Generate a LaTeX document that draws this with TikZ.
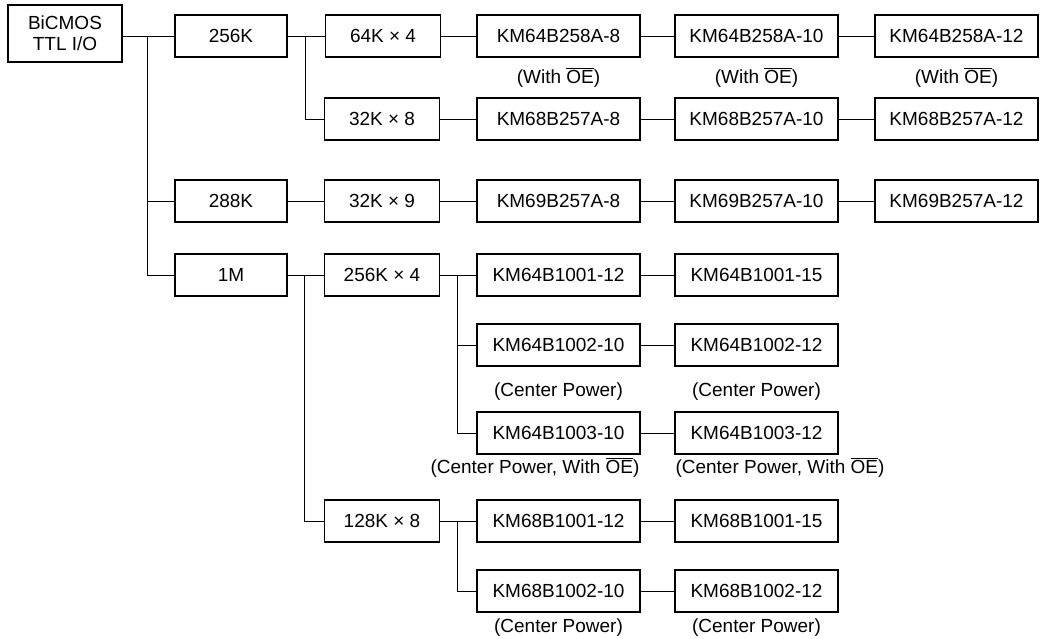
\documentclass[tikz,border=0pt]{standalone}
\usepackage{fontspec}
\setmainfont{Liberation Sans}
\usetikzlibrary{positioning}
\newcommand{\nOE}{$\overline{\mbox{OE}}$}

\begin{document}
\begin{tikzpicture}[x=0.025cm,y=-0.025cm,
    every node/.style={font=\fontsize{13.5}{15}\selectfont},
    box/.style={draw,line width=1.2pt,minimum height=1.05cm,inner sep=0pt},
    sizebox/.style={box,minimum width=2.8cm},
    orgbox/.style={box,minimum width=2.875cm},
    partbox/.style={box,minimum width=4.075cm},
    link/.style={line width=.6pt}]
  \useasboundingbox (0,0) rectangle (1041,639);
  % root and memory sizes
  \node[box,minimum width=2.85cm,minimum height=1.425cm,align=center] (bicmos) at (65,33.5) {BiCMOS\\TTL I/O};
  \node[sizebox] (k256) at (231,36) {256K};
  \node[sizebox] (k288) at (231,201) {288K};
  \node[sizebox] (m1) at (231,275) {1M};
  % organisations
  \node[orgbox] (k64x4) at (383,36) {64K × 4};
  \node[orgbox] (k32x8) at (382,119) {32K × 8};
  \node[orgbox] (k32x9) at (382,201) {32K × 9};
  \node[orgbox] (k256x4) at (382,275) {256K × 4};
  \node[orgbox] (k128x8) at (382,521) {128K × 8};
  % parts
  \node[partbox] (a8) at (558.5,36) {KM64B258A-8};
  \node[partbox] (a10) at (756.5,36) {KM64B258A-10};
  \node[partbox] (a12) at (956.5,36) {KM64B258A-12};
  \node[partbox] (b8) at (558.5,119) {KM68B257A-8};
  \node[partbox] (b10) at (756.5,119) {KM68B257A-10};
  \node[partbox] (b12) at (956.5,119) {KM68B257A-12};
  \node[partbox] (c8) at (558.5,201) {KM69B257A-8};
  \node[partbox] (c10) at (756.5,201) {KM69B257A-10};
  \node[partbox] (c12) at (956.5,201) {KM69B257A-12};
  \node[partbox] (d12) at (558.5,275) {KM64B1001-12};
  \node[partbox] (d15) at (756.5,275) {KM64B1001-15};
  \node[partbox] (e10) at (558.5,345) {KM64B1002-10};
  \node[partbox] (e12) at (756.5,345) {KM64B1002-12};
  \node[partbox] (f10) at (558.5,433) {KM64B1003-10};
  \node[partbox] (f12) at (756.5,433) {KM64B1003-12};
  \node[partbox] (g12) at (558.5,521) {KM68B1001-12};
  \node[partbox] (g15) at (756.5,521) {KM68B1001-15};
  \node[partbox] (h10) at (558.5,591) {KM68B1002-10};
  \node[partbox] (h12) at (756.5,591) {KM68B1002-12};
  % notes under parts
  \node (na8) at (558.5,77) {(With \nOE)};
  \node (na10) at (756.5,77) {(With \nOE)};
  \node (na12) at (956.5,77) {(With \nOE)};
  \node (ne10) at (558.5,392) {(Center Power)};
  \node (ne12) at (756.5,392) {(Center Power)};
  \node (nf10) at (535,467) {(Center Power, With \nOE)};
  \node (nf12) at (780,467) {(Center Power, With \nOE)};
  \node (nh10) at (558.5,628) {(Center Power)};
  \node (nh12) at (756.5,628) {(Center Power)};
  % buses
  \coordinate (trunk) at (147,36);
  \coordinate (bus256) at (305,36);
  \coordinate (bus1m) at (304,275);
  \coordinate (bus256x4) at (457,275);
  \coordinate (bus128x8) at (457,521);
  \draw[link] (bicmos.east |- k256) -- (k256.west);
  \draw[link] (trunk) |- (k288.west);
  \draw[link] (trunk) |- (m1.west);
  \draw[link] (bus256) |- (k32x8.west);
  \draw[link] (bus1m) |- (k128x8.west);
  \draw[link] (bus256x4) |- (e10.west);
  \draw[link] (bus256x4) |- (f10.west);
  \draw[link] (bus128x8) |- (h10.west);
  \foreach \from/\to in {k256/k64x4,k64x4/a8,a8/a10,a10/a12,k32x8/b8,b8/b10,b10/b12,
      k288/k32x9,k32x9/c8,c8/c10,c10/c12,m1/k256x4,k256x4/d12,d12/d15,e10/e12,
      f10/f12,k128x8/g12,g12/g15,h10/h12}
    \draw[link] (\from) -- (\to);
\end{tikzpicture}
\end{document}
